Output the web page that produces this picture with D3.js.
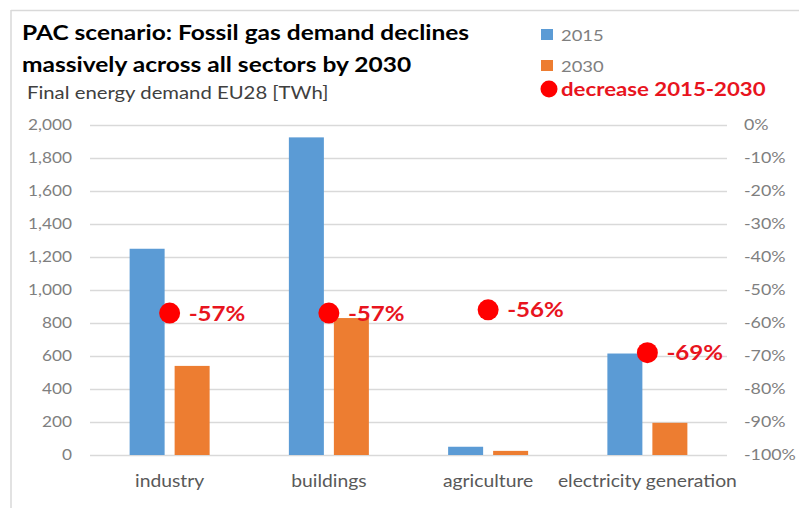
<!DOCTYPE html>
<html><head><meta charset="utf-8">
<script src="https://cdn.jsdelivr.net/npm/d3@7"></script>
<style>body{margin:0;background:#fff;} svg{display:block;}</style>
</head><body>
<svg id="c" width="799" height="508"></svg>
<script>
const categories = ["industry", "buildings", "agriculture", "electricity generation"];
const values2015 = [1250, 1925, 50, 615];
const values2030 = [540, 830, 25, 195];
const decrease = [-57, -57, -56, -69];
const leftTicks = [0, 200, 400, 600, 800, 1000, 1200, 1400, 1600, 1800, 2000];
const rightTicks = [0, -10, -20, -30, -40, -50, -60, -70, -80, -90, -100];
const seriesNames = ["2015", "2030"];

const svg = d3.select("#c");
const FONT = "Lato, 'Open Sans', sans-serif";
const SX = 1.15;
const blue = "#5B9BD5", orange = "#ED7D31", red = "#FF0000", redText = "#E8141E";

// horizontally stretched text helper (keeps real text)
function stext(parent, x, y, str, size, opts = {}) {
  const g = parent.append("g").attr("transform", `translate(${x},${y}) scale(${opts.sx || SX},1)`);
  return g.append("text").attr("x", 0).attr("y", 0)
    .attr("font-family", FONT).attr("font-size", size)
    .attr("font-weight", opts.weight || "normal")
    .attr("fill", opts.fill || "#000")
    .attr("text-anchor", opts.anchor || "start")
    .text(str);
}
function stretchAxis(sel, sx) {
  sel.selectAll("text").each(function () {
    const t = d3.select(this);
    const xx = +t.attr("x") || 0;
    t.attr("x", 0).attr("transform", `translate(${xx},0) scale(${sx},1)`);
  });
}

// frame
svg.append("line").attr("x1", 11).attr("x2", 799).attr("y1", 10.5).attr("y2", 10.5).attr("stroke", "#d9d9d9").attr("stroke-width", 1.5);
svg.append("line").attr("x1", 11).attr("x2", 11).attr("y1", 10).attr("y2", 508).attr("stroke", "#d9d9d9").attr("stroke-width", 1.5);

const x0 = 90, x1 = 727;
const x = d3.scaleBand().domain(categories).range([x0, x1]).paddingInner(0).paddingOuter(0);
const y = d3.scaleLinear().domain([0, 2000]).range([455, 125]);
const yR = d3.scaleLinear().domain([-100, 0]).range([455, 125]);

// gridlines
svg.append("g").selectAll("line").data(leftTicks).join("line")
  .attr("x1", x0).attr("x2", x1)
  .attr("y1", d => Math.round(y(d)) + 0.5).attr("y2", d => Math.round(y(d)) + 0.5)
  .attr("stroke", "#d9d9d9").attr("stroke-width", 1.5);

// left axis
const fmt = d3.format(",");
const leftAxis = svg.append("g").attr("transform", `translate(${x0 - 18},0)`)
  .call(d3.axisLeft(y).tickValues(leftTicks).tickFormat(fmt).tickSize(0).tickPadding(0));
leftAxis.select(".domain").remove();
leftAxis.selectAll("text").attr("font-family", FONT).attr("font-size", 15).attr("fill", "#7f7f7f");
stretchAxis(leftAxis, SX);

// right axis
const rightAxis = svg.append("g").attr("transform", `translate(${x1 + 17},0)`)
  .call(d3.axisRight(yR).tickValues(rightTicks).tickFormat(d => d + "%").tickSize(0).tickPadding(0));
rightAxis.select(".domain").remove();
rightAxis.selectAll("text").attr("font-family", FONT).attr("font-size", 15.5).attr("fill", "#7f7f7f");
stretchAxis(rightAxis, SX);

// bars
const bw = 35, gap = 10;
const g = svg.append("g");
categories.forEach((c, i) => {
  const cx = x(c) + x.bandwidth() / 2;
  g.append("rect").attr("x", cx - gap / 2 - bw).attr("width", bw)
    .attr("y", y(values2015[i])).attr("height", y(0) - y(values2015[i])).attr("fill", blue);
  g.append("rect").attr("x", cx + gap / 2).attr("width", bw)
    .attr("y", y(values2030[i])).attr("height", y(0) - y(values2030[i])).attr("fill", orange);
});

// category labels
const catG = svg.append("g");
categories.forEach(c => {
  stext(catG, x(c) + x.bandwidth() / 2, 487, c, 16.8, {fill: "#595959", anchor: "middle"});
});

// decrease dots & labels
categories.forEach((c, i) => {
  const cx = x(c) + x.bandwidth() / 2;
  svg.append("circle").attr("cx", cx).attr("cy", yR(decrease[i])).attr("r", 10.5).attr("fill", red);
  stext(svg, cx + 19, yR(decrease[i]) + 7.5, decrease[i] + "%", 21, {weight: "bold", fill: redText});
});

// title
stext(svg, 22, 40, "PAC scenario: Fossil gas demand declines", 21.5, {weight: "bold", fill: "#000", sx: 1.14});
stext(svg, 22, 72, "massively across all sectors by 2030", 21.5, {weight: "bold", fill: "#000", sx: 1.14});
stext(svg, 27, 99, "Final energy demand EU28 [TWh]", 17.5, {fill: "#404040", sx: 1.16});

// legend
const legColors = [blue, orange];
seriesNames.forEach((s, i) => {
  svg.append("rect").attr("x", 541).attr("y", 29 + i * 31).attr("width", 12).attr("height", 11).attr("fill", legColors[i]);
  stext(svg, 561, 40.5 + i * 31, s, 16, {fill: "#7f7f7f"});
});
svg.append("circle").attr("cx", 549).attr("cy", 89).attr("r", 8.5).attr("fill", red);
stext(svg, 561, 95.5, "decrease 2015-2030", 19.5, {weight: "bold", fill: redText, sx: 1.14});
</script>
</body></html>
